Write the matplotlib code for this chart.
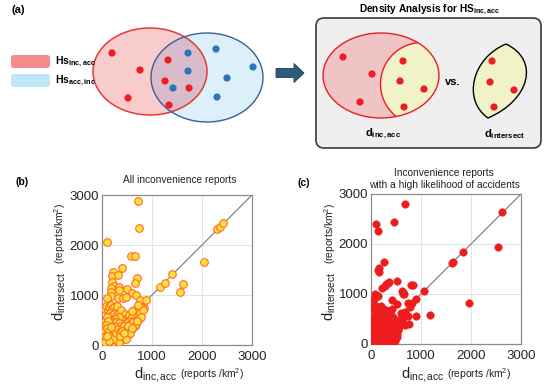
import matplotlib
matplotlib.use("Agg")
import matplotlib.pyplot as plt
from matplotlib.patches import Ellipse, Circle, FancyBboxPatch, FancyArrow, PathPatch
from matplotlib.path import Path

plt.rcParams['font.family'] = ['Liberation Sans', 'DejaVu Sans']
plt.rcParams['mathtext.fontset'] = 'custom'
plt.rcParams['mathtext.rm'] = 'Liberation Sans'
plt.rcParams['mathtext.it'] = 'Liberation Sans:italic'
plt.rcParams['mathtext.bf'] = 'Liberation Sans:bold'

# ---------------- data ----------------
ticks = [0, 1000, 2000, 3000]
tick_labels = ["0", "1000", "2000", "3000"]

# (b) all inconvenience reports: (d_inc,acc, d_intersect)
b_points = [
    (727, 2880), (733, 2333), (100, 2067), (580, 1787), (660, 1773), (400, 1547), (707, 1340),
    (653, 1247), (227, 1453), (207, 1387), (313, 1400), (193, 1267), (247, 1187), (180, 1150),
    (180, 1070), (180, 990), (347, 1167), (347, 1100), (493, 1120), (593, 1033), (680, 1000),
    (327, 933), (413, 933), (760, 900), (880, 900), (1160, 1167), (1260, 1233), (1407, 1420),
    (1613, 1220), (1560, 1067), (2047, 1667), (2293, 2313), (2360, 2367), (2413, 2447),
    (840, 733), (107, 933), (487, 960), (793, 733), (660, 533),
    (60, 720), (80, 780), (110, 700), (140, 760), (170, 800), (200, 720), (230, 760), (260, 690),
    (290, 780), (150, 640), (190, 600), (240, 620), (280, 580), (330, 650), (380, 700), (420, 560),
    (460, 620), (500, 540), (540, 600), (600, 560), (640, 700), (700, 660), (720, 600), (760, 640),
    (820, 700), (720, 800), (600, 680), (620, 480), (680, 470), (740, 520), (780, 560), (520, 480),
    (440, 480), (380, 520), (330, 560), (250, 520), (200, 480), (150, 460), (100, 440), (60, 480),
    (90, 560),
    (30, 40), (50, 80), (70, 30), (90, 120), (60, 150), (40, 200), (80, 220), (110, 60), (130, 150),
    (100, 260), (70, 300), (50, 350), (120, 330), (150, 220), (160, 100), (180, 280), (140, 400),
    (200, 160), (210, 340), (230, 240), (250, 100), (260, 300), (280, 180), (300, 380), (320, 260),
    (340, 140), (360, 320), (380, 220), (400, 420), (420, 300), (440, 180), (460, 360), (480, 260),
    (500, 440), (520, 200), (540, 330), (560, 420), (580, 300), (600, 400), (620, 460), (650, 380),
    (680, 420), (700, 480), (240, 420), (190, 440), (270, 460), (330, 450), (350, 390), (290, 320),
    (310, 200), (220, 60), (170, 30), (120, 20), (90, 10), (150, 300), (200, 380), (260, 130),
    (380, 100), (420, 140), (460, 200), (300, 80), (340, 60), (480, 120), (250, 360), (110, 480),
    (80, 400), (30, 260), (20, 120), (45, 100), (65, 190), (95, 350), (135, 280), (175, 190),
    (215, 120), (235, 310), (275, 240), (315, 330), (355, 270), (395, 350), (435, 380), (475, 320),
    (515, 380), (555, 250), (595, 350), (355, 180), (395, 280), (445, 250), (170, 360), (60, 60),
    (140, 90), (100, 180),
]

# (c) inconvenience reports with a high likelihood of accidents
c_points = [
    (680, 2793), (453, 2447), (100, 2393), (140, 2260), (2620, 2633), (2540, 1947), (1833, 1840),
    (1613, 1627), (1633, 1647), (253, 1633), (153, 1527), (160, 1447), (140, 1490), (513, 1260),
    (360, 1233), (293, 1200), (220, 1113), (800, 1187), (833, 1180), (1053, 1060), (620, 1060),
    (647, 993), (80, 1000), (140, 953), (67, 907), (100, 980), (907, 907), (813, 827), (780, 793),
    (420, 873), (527, 793), (1960, 827), (900, 560), (1187, 580), (760, 393), (527, 140), (53, 780),
    (787, 747), (347, 1213), (280, 1160), (633, 1047), (660, 1000), (747, 813),
    (60, 700), (90, 760), (120, 720), (150, 680), (190, 760), (230, 700), (300, 680),
    (380, 640), (420, 700), (600, 620),
    (680, 640), (740, 560), (660, 560), (600, 500), (440, 540),
    (320, 620), (280, 600), (240, 640), (200, 600), (160, 620), (110, 640),
    (70, 600), (50, 540), (100, 560), (150, 520), (200, 520), (250, 540), (300, 500), (350, 480),
    (400, 460), (450, 480), (500, 440), (620, 420), (680, 380), (640, 520),
    (580, 380), (520, 360), (470, 400), (420, 380), (30, 460), (60, 420),
    (10, 10), (20, 30), (30, 15), (40, 50), (15, 60), (50, 20), (60, 80), (25, 100), (70, 40),
    (80, 120), (45, 140), (90, 70), (100, 160), (20, 180), (110, 30), (120, 200), (55, 220),
    (130, 90), (140, 260), (35, 280), (150, 140), (160, 40), (170, 300), (75, 320), (180, 200),
    (190, 100), (200, 340), (95, 360), (210, 250), (220, 60), (230, 380), (115, 400), (240, 160),
    (250, 300), (260, 20), (270, 420), (135, 440), (280, 230), (290, 120), (300, 360), (310, 280),
    (320, 180), (330, 400), (340, 80), (350, 320), (360, 230), (370, 140), (380, 300), (390, 420),
    (400, 200), (160, 370), (60, 260), (85, 200), (105, 280), (125, 330), (145, 190), (165, 240),
    (185, 400), (205, 180), (225, 290), (245, 440), (265, 350), (285, 80), (305, 190), (325, 260),
    (345, 360), (365, 430), (15, 350), (40, 380), (70, 430), (10, 250), (30, 220), (50, 300),
    (80, 20), (95, 110), (130, 10), (150, 80), (175, 150), (195, 50), (215, 130), (235, 220),
    (255, 110), (275, 170), (295, 240), (315, 90), (335, 140), (355, 60), (375, 20), (395, 100),
    (415, 260), (435, 320), (455, 180), (475, 240), (495, 300), (515, 200), (535, 280), (555, 340),
    (440, 120), (480, 60), (420, 40), (380, 200), (40, 420), (20, 440), (10, 120), (5, 40),
    (65, 160), (90, 400), (110, 120), (125, 250), (200, 20), (240, 90), (290, 60), (330, 30),
]

b_x = [p[0] for p in b_points]
b_y = [p[1] for p in b_points]
c_x = [p[0] for p in c_points]
c_y = [p[1] for p in c_points]

# ---------------- figure ----------------
fig = plt.figure(figsize=(5.5, 3.87), dpi=100)
ax0 = fig.add_axes([0, 0, 1, 1])
ax0.set_xlim(0, 550)
ax0.set_ylim(387, 0)
ax0.axis('off')

RED = '#ee1c24'
BLUE = '#2e75b6'
DOT_R = 3.6

# panel (a) left Venn
ax0.text(12, 10, "(a)", fontsize=8, fontweight='bold', va='center')
ax0.add_patch(FancyBboxPatch((11, 55), 39, 13, boxstyle="round,pad=0,rounding_size=3",
                             fc='#f28b8b', ec='none'))
ax0.add_patch(FancyBboxPatch((11, 74), 39, 13, boxstyle="round,pad=0,rounding_size=3",
                             fc='#bfe6f7', ec='none'))
ax0.text(55, 62, r"Hs$_{\mathbf{inc,acc}}$", fontsize=7.5, fontweight='bold', va='center')
ax0.text(55, 81, r"Hs$_{\mathbf{acc,inc}}$", fontsize=7.5, fontweight='bold', va='center')

red_e = Ellipse((150, 71.5), 114, 87, fc='#f9cccc', ec='none')
ax0.add_patch(red_e)
ax0.add_patch(Ellipse((207, 77.5), 112, 89, fc='#dcf0fa', ec='none'))
ov = Ellipse((207, 77.5), 112, 89, fc='#d8bccb', ec='none')
ax0.add_patch(ov)
ov.set_clip_path(red_e)
ax0.add_patch(Ellipse((150, 71.5), 114, 87, fc='none', ec='#e53935', lw=1.1))
ax0.add_patch(Ellipse((207, 77.5), 112, 89, fc='none', ec='#3d5f96', lw=1.0))
for (x, y) in [(112, 53), (140, 70), (128, 98), (168, 60), (165, 81), (189, 88), (169, 105)]:
    ax0.add_patch(Circle((x, y), DOT_R, fc=RED, ec='none'))
for (x, y) in [(188, 53), (188, 71), (173, 88), (216, 49), (253, 67), (227, 78), (217, 97)]:
    ax0.add_patch(Circle((x, y), DOT_R, fc=BLUE, ec='none'))

# arrow
ax0.add_patch(FancyArrow(276, 73, 18, 0, width=9, head_width=19, head_length=10,
                         length_includes_head=False, fc='#2f5b7a', ec='#1f3f58', lw=0.6))

# right box
ax0.text(430, 10, r"Density Analysis for HS$_{\mathbf{inc,acc}}$", fontsize=7.3,
         fontweight='bold', ha='center', va='center')
ax0.add_patch(FancyBboxPatch((316, 18), 225, 130, boxstyle="round,pad=0,rounding_size=8",
                             fc='#efefef', ec='#3a3a3a', lw=1.2))
e2 = Ellipse((381, 75.5), 116, 85, fc='#f0c4c4', ec='none')
ax0.add_patch(e2)
yc = Circle((422, 84), 41.5, fc='#f2f2c8', ec=RED, lw=1.0)
ax0.add_patch(yc)
yc.set_clip_path(e2)
ax0.add_patch(Ellipse((381, 75.5), 116, 85, fc='none', ec=RED, lw=1.0))
for (x, y) in [(343, 57), (372, 74), (360, 102), (403, 61), (400, 81), (424, 89), (404, 107)]:
    ax0.add_patch(Circle((x, y), DOT_R, fc=RED, ec='none'))
lens = Path([(506, 44), (472, 58), (462, 100), (488, 118), (530, 100), (540, 60), (506, 44)],
            [Path.MOVETO, Path.CURVE4, Path.CURVE4, Path.CURVE4, Path.CURVE4, Path.CURVE4,
             Path.CURVE4])
ax0.add_patch(PathPatch(lens, fc='#f2f2c8', ec='black', lw=1.0))
for (x, y) in [(492, 61), (490, 82), (514, 90), (494, 107)]:
    ax0.add_patch(Circle((x, y), DOT_R, fc=RED, ec='none'))
ax0.text(453, 82, "vs.", fontsize=8, fontweight='bold', ha='center', va='center')
ax0.text(383, 134, r"d$_{\mathbf{inc,acc}}$", fontsize=8, fontweight='bold', ha='center', va='center')
ax0.text(505, 134, r"d$_{\mathbf{intersect}}$", fontsize=8, fontweight='bold', ha='center', va='center')

# panel labels and titles
ax0.text(16, 182, "(b)", fontsize=7.5, fontweight='bold', va='center')
ax0.text(298, 183, "(c)", fontsize=7.5, fontweight='bold', va='center')
ax0.text(180, 180, "All inconvenience reports", fontsize=7.3, ha='center', va='center',
         color='#222222')
ax0.text(444, 179, "Inconvenience reports\nwith a high likelihood of accidents", fontsize=7.3,
         ha='center', va='center', color='#222222', linespacing=1.15)

# axis labels (pixel placement)
def xlab(xmid, base):
    ax0.text(xmid - 1, base, r"d$_{\mathrm{inc,acc}}$", fontsize=10.5, ha='right', va='baseline',
             color='#222222')
    ax0.text(xmid + 1, base, r"(reports /km$^{2}$)", fontsize=7.4, ha='left', va='baseline',
             color='#222222')

def ylab(xbase, ystart):
    ax0.text(xbase, ystart, r"d$_{\mathrm{intersect}}$", fontsize=10.5, rotation=90,
             rotation_mode='anchor', ha='left', va='baseline', color='#222222')
    ax0.text(xbase, ystart - 57, r"(reports/km$^{2}$)", fontsize=7.4, rotation=90,
             rotation_mode='anchor', ha='left', va='baseline', color='#222222')

xlab(179, 378)
xlab(446, 378)
ylab(63.5, 321)
ylab(334, 321)

# scatter axes
def style(ax):
    ax.set_xlim(0, 3000)
    ax.set_ylim(0, 3000)
    ax.set_xticks(ticks)
    ax.set_yticks(ticks)
    ax.set_xticklabels(tick_labels)
    ax.set_yticklabels(tick_labels)
    ax.grid(True, color='#e3e3e3', lw=0.7)
    ax.set_axisbelow(True)
    ax.tick_params(length=0, labelsize=9.5, labelcolor='#262626', pad=2)
    ax.tick_params(axis='x', pad=4)
    for s in ax.spines.values():
        s.set_color('#8c8c8c')
        s.set_linewidth(0.9)
    ax.plot(ticks, ticks, color='#777777', lw=0.8, zorder=2)

axb = fig.add_axes([102 / 550, (387 - 345) / 387, 150 / 550, 150 / 387])
style(axb)
axb.scatter(b_x, b_y, s=30, facecolor='#ffe03c', edgecolor='#ff6a2a', linewidths=0.8, zorder=3)

axc = fig.add_axes([371 / 550, (387 - 344) / 387, 150 / 550, 150 / 387])
style(axc)
axc.scatter(c_x, c_y, s=30, facecolor='#ee1c1c', edgecolor='#ee1c1c', linewidths=0.3, zorder=3)

fig.savefig('out.png', dpi=100)
